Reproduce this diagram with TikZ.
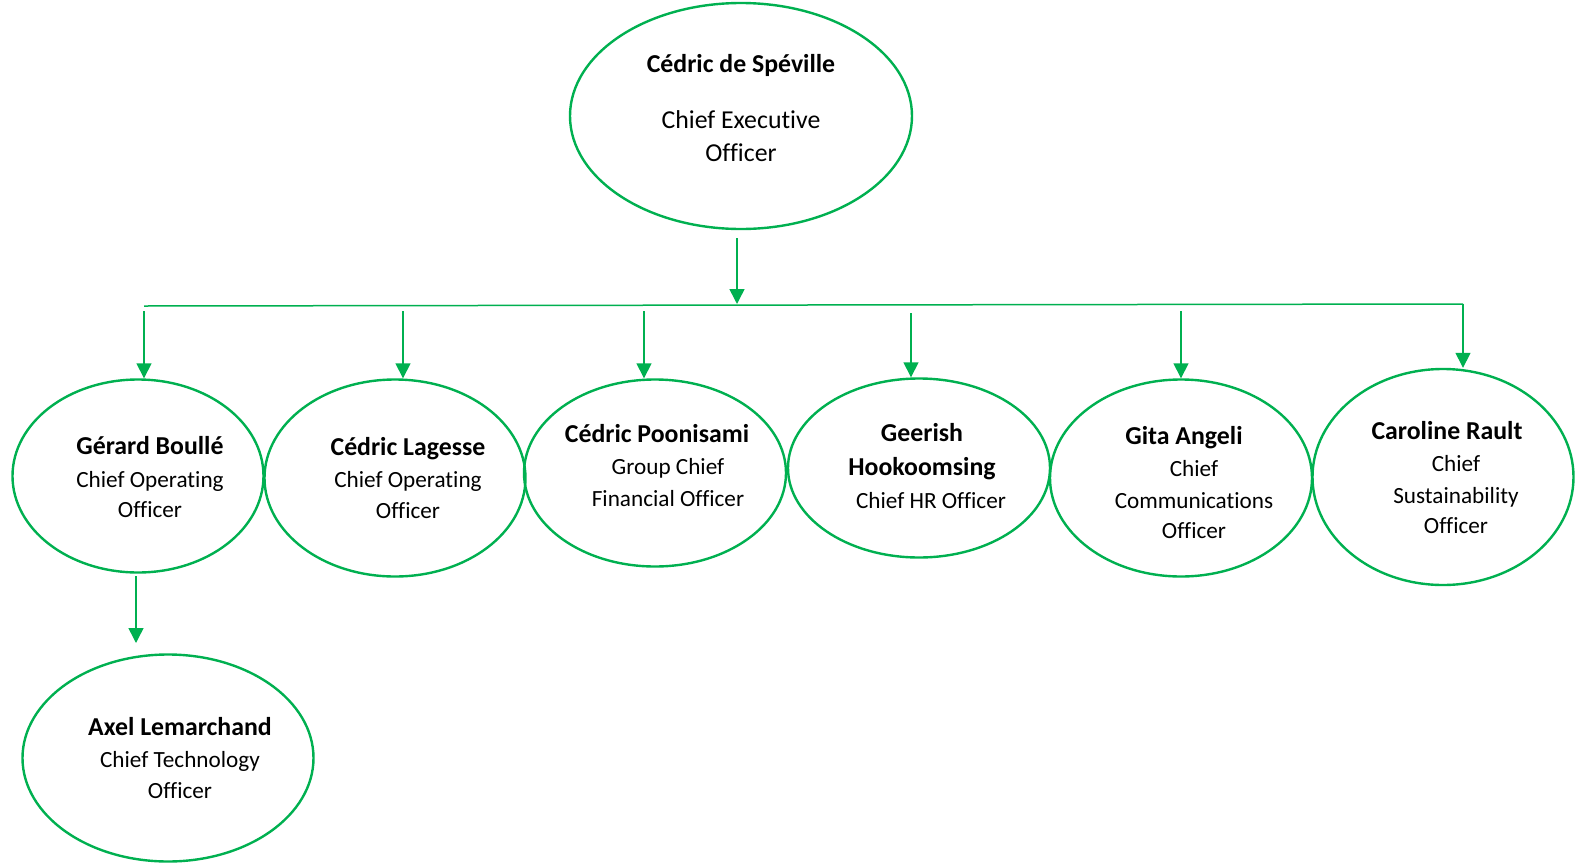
\documentclass[tikz,border=0pt]{standalone}
\usepackage{fontspec}
\setmainfont{Carlito}[Ligatures=NoCommon]
\usetikzlibrary{shapes.geometric,arrows.meta}
\definecolor{orggreen}{RGB}{0,176,80}
\begin{document}
\begin{tikzpicture}[x=0.5pt,y=-0.5pt,
  person/.style={ellipse,draw=orggreen,line width=1.2pt,inner sep=0pt},
  nm/.style={anchor=base,inner sep=0pt,font=\fontsize{12.9}{15}\selectfont\bfseries},
  rl/.style={anchor=base,inner sep=0pt,font=\fontsize{11.6}{14}\selectfont},
  rlbig/.style={anchor=base,inner sep=0pt,font=\fontsize{12.9}{15}\selectfont},
  link/.style={draw=orggreen,line width=0.75pt},
  arr/.style={link,-{Triangle[width=7.5pt,length=7.5pt]}}]
\path[use as bounding box] (0,0) rectangle (1576,863);

% ellipses
\node[person,minimum width=171pt,minimum height=113pt] (ceo) at (741,116) {};
\node[person,minimum width=125.5pt,minimum height=96.5pt] (gb) at (138,476) {};
\node[person,minimum width=130.5pt,minimum height=98.5pt] (cl) at (395,478) {};
\node[person,minimum width=131pt,minimum height=93.5pt] (cp) at (655,473) {};
\node[person,minimum width=131pt,minimum height=89.5pt] (gh) at (919,468) {};
\node[person,minimum width=131pt,minimum height=98.5pt] (ga) at (1181,478) {};
\node[person,minimum width=130.5pt,minimum height=108pt] (cr) at (1443,477) {};
\node[person,minimum width=145.5pt,minimum height=103.5pt] (al) at (168,758) {};

% texts
\node[nm] (t0a) at (741,72) {Cédric de Spéville};
\node[rlbig] (t0b) at (741,128) {Chief Executive};
\node[rlbig] (t0c) at (741,161) {Officer};

\node[nm] (t1a) at (150,454) {Gérard Boullé};
\node[rl] (t1b) at (150,487) {Chief Operating};
\node[rl] (t1c) at (150,517) {Officer};

\node[nm] (t2a) at (408,455) {Cédric Lagesse};
\node[rl] (t2b) at (408,487) {Chief Operating};
\node[rl] (t2c) at (408,518) {Officer};

\node[nm] (t3a) at (657,442) {Cédric Poonisami};
\node[rl] (t3b) at (668,474) {Group Chief};
\node[rl] (t3c) at (668,506) {Financial Officer};

\node[nm] (t4a) at (922,441) {Geerish};
\node[nm] (t4b) at (922,475) {Hookoomsing};
\node[rl] (t4c) at (931,508) {Chief HR Officer};

\node[nm] (t5a) at (1184,444) {Gita Angeli};
\node[rl] (t5b) at (1194,476) {Chief};
\node[rl] (t5c) at (1194,508) {Communications};
\node[rl] (t5d) at (1194,538) {Officer};

\node[nm] (t6a) at (1447,439) {Caroline Rault};
\node[rl] (t6b) at (1456,471) {Chief};
\node[rl] (t6c) at (1456,503) {Sustainability};
\node[rl] (t6d) at (1456,533) {Officer};

\node[nm] (t7a) at (180,735) {Axel Lemarchand};
\node[rl] (t7b) at (180,767) {Chief Technology};
\node[rl] (t7c) at (180,798) {Officer};

% connectors
\coordinate (hl) at (144,306);
\coordinate (hr) at (1463,304);
\coordinate (c0) at (737,238);
\draw[link] (hl) -- (hr);
\draw[arr] (c0) -- (737,304);

\coordinate (d1) at (144,311);
\coordinate (d2) at (403,311);
\coordinate (d3) at (644,311);
\coordinate (d4) at (911,313);
\coordinate (d5) at (1181,311);
\draw[arr] (d1) -- (d1 |- gb.north);
\draw[arr] (d2) -- (d2 |- cl.north);
\draw[arr] (d3) -- (d3 |- cp.north);
\draw[arr] (d4) -- (d4 |- gh.north);
\draw[arr] (d5) -- (d5 |- ga.north);
\draw[arr] (hr) -- (hr |- cr.north);

\coordinate (a0) at (136,576);
\coordinate (a1) at (136,643);
\draw[arr] (a0) -- (a1);
\end{tikzpicture}
\end{document}
